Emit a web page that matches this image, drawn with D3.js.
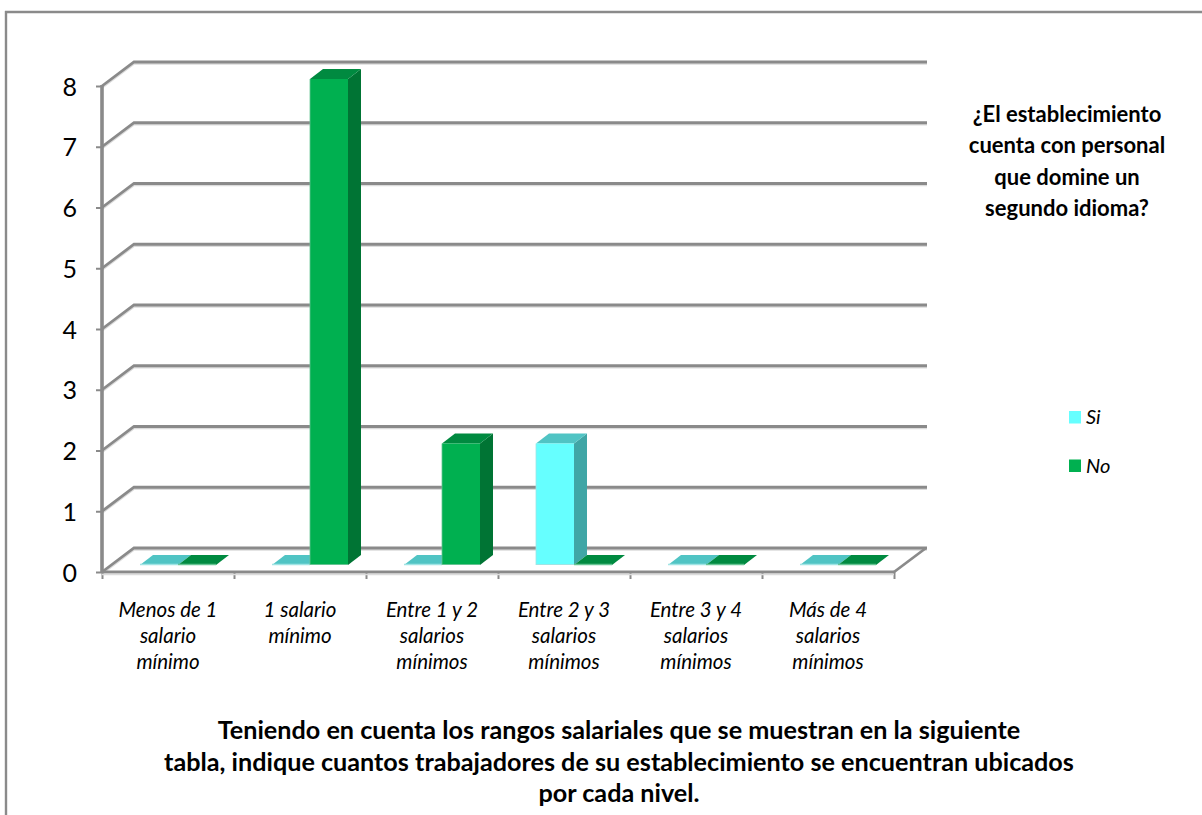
<!DOCTYPE html>
<html>
<head>
<meta charset="utf-8">
<script src="https://cdn.jsdelivr.net/npm/d3@7"></script>
<style>
html, body { margin: 0; padding: 0; background: #fff; overflow: hidden; }
text { font-family: Lato, "Open Sans", sans-serif; fill: #000; }
</style>
</head>
<body>
<svg id="chart" width="1202" height="815"></svg>
<script>
const categories = [
    ["Menos de 1", "salario", "mínimo"],
    ["1 salario", "mínimo"],
    ["Entre 1 y 2", "salarios", "mínimos"],
    ["Entre 2 y 3", "salarios", "mínimos"],
    ["Entre 3 y 4", "salarios", "mínimos"],
    ["Más de 4", "salarios", "mínimos"]
];
const seriesNames = ["Si", "No"];
const siValues = [0, 0, 0, 2, 0, 0];
const noValues = [0, 8, 2, 0, 0, 0];
const yTicks = [0, 1, 2, 3, 4, 5, 6, 7, 8];
const sideTitle = ["¿El establecimiento", "cuenta con personal", "que domine un", "segundo idioma?"];
const bottomTitle = [
    "Teniendo en cuenta los rangos salariales que se muestran en la siguiente",
    "tabla, indique cuantos trabajadores de su establecimiento se encuentran ubicados",
    "por cada nivel."
];

const colors = {
    Si: { front: "#66ffff", top: "#50c4c4", side: "#40a6a6", edge: "#a0e4e4" },
    No: { front: "#00b050", top: "#008a40", side: "#007434", edge: "#66c492" }
};
const axisColor = "#8a8a8a";

const svg = d3.select("#chart");

// plot box, the back wall sits up and to the right of the floor line
const x0 = 102, x1 = 894, yBottom = 572, yTop = 86;
const wallDx = 32, wallDy = -24;
// bars stand a little inside the floor
const barDx = 10, barDy = -7, depthX = 13, depthY = -10;

const x = d3.scaleBand().domain(d3.range(categories.length)).range([x0, x1]).paddingInner(0).paddingOuter(0);
const barWidth = 38;
const xSeries = d3.scaleBand().domain(seriesNames).range([x.bandwidth() / 2 - barWidth, x.bandwidth() / 2 + barWidth]);
const y = d3.scaleLinear().domain([0, 8]).range([yBottom, yTop]);

// frame, only top and left are visible
svg.append("line").attr("x1", 5).attr("x2", 1202).attr("y1", 12).attr("y2", 12)
    .attr("stroke", axisColor).attr("stroke-width", 2.4);
svg.append("line").attr("x1", 6).attr("x2", 6).attr("y1", 11).attr("y2", 815)
    .attr("stroke", axisColor).attr("stroke-width", 2.4);

// gridlines with their soft shadow
yTicks.forEach(function (t) {
    const yy = y(t);
    svg.append("path")
        .attr("d", `M${x0},${yy + 1.5}L${x0 + wallDx},${yy + wallDy + 1.5}H${x1 + wallDx + 1}`)
        .attr("fill", "none").attr("stroke", "#dcdcdc").attr("stroke-width", 2.4);
    svg.append("path")
        .attr("d", `M${x0},${yy}L${x0 + wallDx},${yy + wallDy}H${x1 + wallDx + 1}`)
        .attr("fill", "none").attr("stroke", axisColor).attr("stroke-width", 2.8);
});

// floor right edge
svg.append("line").attr("x1", x1).attr("y1", yBottom).attr("x2", x1 + wallDx).attr("y2", yBottom + wallDy)
    .attr("stroke", axisColor).attr("stroke-width", 2.8);

// axes
const yAxis = d3.axisLeft(y).tickValues(yTicks).tickFormat(d3.format("d")).tickSize(6).tickPadding(19);
const gy = svg.append("g").attr("transform", `translate(${x0},0)`).call(yAxis);
gy.selectAll(".domain").attr("stroke", axisColor).attr("stroke-width", 3.6).attr("d", `M0,${yTop - 1}V${yBottom + 1}`);
gy.selectAll(".tick line").attr("stroke", axisColor).attr("stroke-width", 2);
gy.selectAll(".tick text").style("font-size", "25px").attr("fill", "#000").attr("dy", "0.36em");

const edgeScale = d3.scaleLinear().domain([0, categories.length]).range([x0, x1]);
const xAxis = d3.axisBottom(edgeScale).tickValues(d3.range(categories.length + 1)).tickFormat("").tickSize(7);
const gx = svg.append("g").attr("transform", `translate(0,${yBottom})`).call(xAxis);
gx.selectAll(".domain").attr("stroke", axisColor).attr("stroke-width", 2.8).attr("d", `M${x0},0H${x1}`);
gx.selectAll(".tick line").attr("stroke", axisColor).attr("stroke-width", 2);
svg.append("line").attr("x1", x0).attr("x2", x1).attr("y1", yBottom + 2.5).attr("y2", yBottom + 2.5)
    .attr("stroke", "#dcdcdc").attr("stroke-width", 1.6);

// bars
const rows = [];
seriesNames.forEach(function (s, i) {
    const vals = i == 0 ? siValues : noValues;
    vals.forEach(function (v, c) { rows.push({ s: s, c: c, v: v }); });
});
// No bars in a group cover the Si ones, so draw left to right
rows.sort(function (a, b) { return a.c - b.c || seriesNames.indexOf(a.s) - seriesNames.indexOf(b.s); });

rows.forEach(function (d) {
    const left = x(d.c) + xSeries(d.s) + barDx;
    const right = left + barWidth;
    const base = yBottom + barDy;
    const top = y(d.v) + barDy;
    const c = colors[d.s];
    const bar = svg.append("g").attr("class", "bar");
    if (d.v > 0) {
        bar.append("path").attr("fill", c.side)
            .attr("d", `M${right},${top}l${depthX},${depthY}V${base + depthY}L${right},${base}Z`);
        bar.append("path").attr("fill", c.top)
            .attr("d", `M${left},${top}l${depthX},${depthY}h${barWidth}l${-depthX},${-depthY}Z`);
        bar.append("rect").attr("x", left).attr("y", top).attr("width", barWidth).attr("height", base - top)
            .attr("fill", c.front);
        bar.append("line").attr("x1", left).attr("x2", left).attr("y1", top).attr("y2", base)
            .attr("stroke", c.edge).attr("stroke-width", 0.8);
        bar.append("line").attr("x1", left).attr("x2", right).attr("y1", base - 0.5).attr("y2", base - 0.5)
            .attr("stroke", c.edge).attr("stroke-width", 1);
    } else {
        bar.append("path").attr("fill", c.top)
            .attr("d", `M${left},${base}l${depthX},${depthY}h${barWidth}l${-depthX},${-depthY}Z`);
        bar.append("line").attr("x1", left).attr("x2", right).attr("y1", base - 0.5).attr("y2", base - 0.5)
            .attr("stroke", c.edge).attr("stroke-width", 1.4);
    }
});

// category labels
const catLabels = svg.append("g").selectAll("text").data(categories).join("text")
    .attr("text-anchor", "middle")
    .style("font-size", "20.5px").style("font-style", "italic");
catLabels.each(function (lines, i) {
    d3.select(this).selectAll("tspan").data(lines).join("tspan")
        .attr("x", x(i) + x.bandwidth() / 2)
        .attr("y", function (l, j) { return 617 + j * 26; })
        .text(function (l) { return l; });
});

// side title
svg.append("g").selectAll("text").data(sideTitle).join("text")
    .attr("x", 1067).attr("y", function (d, i) { return 122 + i * 31.3; })
    .attr("text-anchor", "middle")
    .style("font-size", "22px").style("font-weight", "bold")
    .text(function (d) { return d; });

// bottom title
svg.append("g").selectAll("text").data(bottomTitle).join("text")
    .attr("x", 619).attr("y", function (d, i) { return 739 + i * 31.5; })
    .attr("text-anchor", "middle")
    .style("font-size", "25.2px").style("font-weight", "bold")
    .text(function (d) { return d; });

// legend
const legendY = d3.scalePoint().domain(seriesNames).range([411, 459.5]);
const legend = svg.append("g").selectAll("g").data(seriesNames).join("g")
    .attr("transform", function (d) { return `translate(1069,${legendY(d)})`; });
legend.append("rect").attr("width", 12).attr("height", 12.5)
    .attr("fill", function (d) { return colors[d].front; });
legend.append("text").attr("x", 17).attr("y", 13)
    .style("font-size", "20px").style("font-style", "italic")
    .text(function (d) { return d; });
</script>
</body>
</html>
